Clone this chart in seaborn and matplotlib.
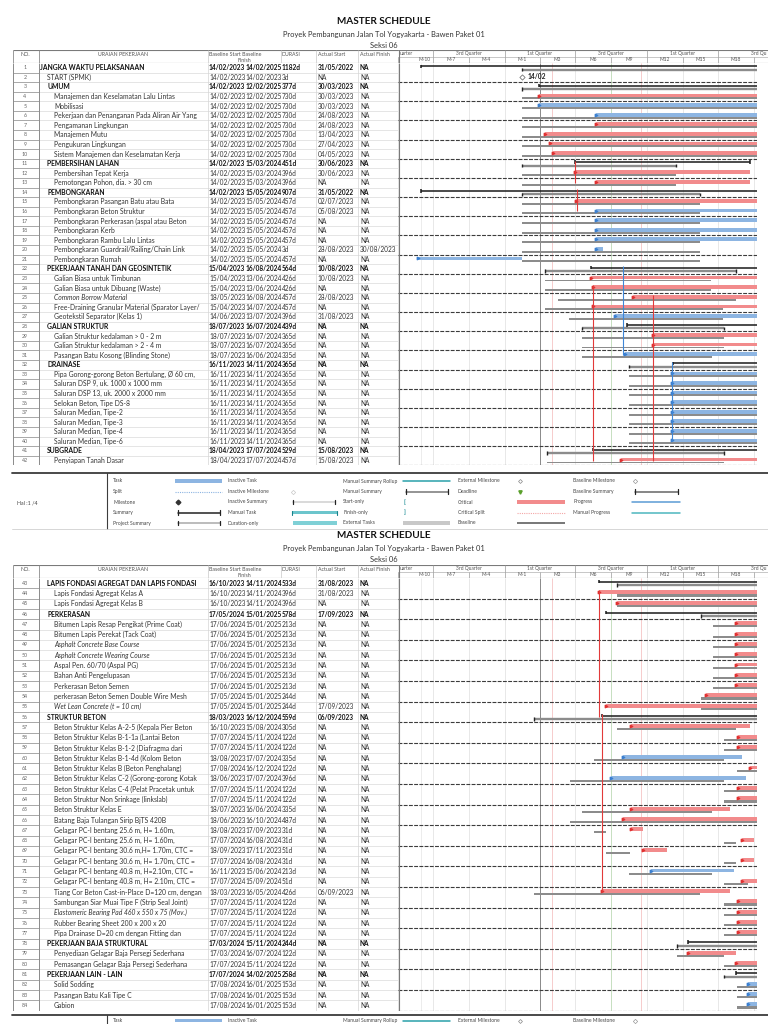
import datetime as dt
import numpy as np
import pandas as pd
import matplotlib
matplotlib.use("Agg")
import matplotlib.pyplot as plt
import matplotlib.dates as mdates
from matplotlib.patches import Rectangle
import seaborn as sns

sns.set_theme(style="white")
plt.rcParams["font.family"] = ["Lato", "DejaVu Sans"]

# ---------------------------------------------------------------- data
TITLE = "MASTER SCHEDULE"
SUBTITLE = "Proyek Pembangunan Jalan Tol Yogyakarta - Bawen Paket 01"
SECTION = "Seksi 06"
PAGE_LABELS = ["Hal :1 /4", "Hal :2 /4"]

TASK_NAMES = [
    "JANGKA WAKTU PELAKSANAAN", "START (SPMK)", "UMUM",
    "Manajemen dan Keselamatan Lalu Lintas", "Mobilisasi",
    "Pekerjaan dan Penanganan Pada Aliran Air Yang", "Pengamanan Lingkungan",
    "Manajemen Mutu", "Pengukuran Lingkungan", "Sistem Manajemen dan Keselamatan Kerja",
    "PEMBERSIHAN LAHAN", "Pembersihan Tepat Kerja", "Pemotongan Pohon, dia. > 30 cm",
    "PEMBONGKARAN", "Pembongkaran Pasangan Batu atau Bata", "Pembongkaran Beton Struktur",
    "Pembongkaran Perkerasan (aspal atau Beton", "Pembongkaran Kerb",
    "Pembongkaran Rambu Lalu Lintas", "Pembongkaran Guardrail/Railing/Chain Link",
    "Pembongkaran Rumah", "PEKERJAAN TANAH DAN GEOSINTETIK", "Galian Biasa untuk Timbunan",
    "Galian Biasa untuk Dibuang (Waste)", "Common Borrow Material",
    "Free-Draining Granular Material (Sparator Layer/", "Geotekstil Separator (Kelas 1)",
    "GALIAN STRUKTUR", "Galian Struktur kedalaman > 0 - 2 m", "Galian Struktur kedalaman > 2 - 4 m",
    "Pasangan Batu Kosong (Blinding Stone)", "DRAINASE",
    "Pipa Gorong-gorong Beton Bertulang, Ø 60 cm,", "Saluran DSP 9, uk. 1000 x 1000 mm",
    "Saluran DSP 13, uk. 2000 x 2000 mm", "Selokan Beton, Tipe DS-8", "Saluran Median, Tipe-2",
    "Saluran Median, Tipe-3", "Saluran Median, Tipe-4", "Saluran Median, Tipe-6",
    "SUBGRADE", "Penyiapan Tanah Dasar",
    "LAPIS FONDASI AGREGAT DAN LAPIS FONDASI", "Lapis Fondasi Agregat Kelas A",
    "Lapis Fondasi Agregat Kelas B", "PERKERASAN", "Bitumen Lapis Resap Pengikat (Prime Coat)",
    "Bitumen Lapis Perekat (Tack Coat)", "Asphalt Concrete Base Course",
    "Asphalt Concrete Wearing Course", "Aspal Pen. 60/70 (Aspal PG)", "Bahan Anti Pengelupasan",
    "Perkerasan Beton Semen", "perkerasan Beton Semen Double Wire Mesh",
    "Wet Lean Concrete (t = 10 cm)", "STRUKTUR BETON",
    "Beton Struktur Kelas A-2-5 (Kepala Pier Beton", "Beton Struktur Kelas B-1-1a (Lantai Beton",
    "Beton Struktur Kelas B-1-2 (Diafragma dari", "Beton Struktur Kelas B-1-4d (Kolom Beton",
    "Beton Struktur Kelas B (Beton Penghalang)", "Beton Struktur Kelas C-2 (Gorong-gorong Kotak",
    "Beton Struktur Kelas C-4 (Pelat Pracetak untuk", "Beton Struktur Non Srinkage (linkslab)",
    "Beton Struktur Kelas E", "Batang Baja Tulangan Sirip BjTS 420B",
    "Gelagar PC-I bentang 25.6 m, H= 1.60m,", "Gelagar PC-I bentang 25.6 m, H= 1.60m,",
    "Gelagar PC-I bentang 30.6 m,H= 1.70m, CTC =", "Gelagar PC-I bentang 30.6 m, H= 1.70m, CTC =",
    "Gelagar PC-I bentang 40.8 m, H=2.10m, CTC =", "Gelagar PC-I bentang 40.8 m, H= 2.10m, CTC =",
    "Tiang Cor Beton Cast-in-Place D=120 cm, dengan", "Sambungan Siar Muai Tipe F (Strip Seal Joint)",
    "Elastomeric Bearing Pad 460 x 550 x 75 (Mov.)", "Rubber Bearing Sheet 200 x 200 x 20",
    "Pipa Drainase D=20 cm dengan Fitting dan", "PEKERJAAN BAJA STRUKTURAL",
    "Penyediaan Gelagar Baja Persegi Sederhana", "Pemasangan Gelagar Baja Persegi Sederhana",
    "PEKERJAAN LAIN - LAIN", "Solid Sodding", "Pasangan Batu Kali Tipe C", "Gabion",
]
TASK_NUMBERS = list(range(1, len(TASK_NAMES) + 1))

TASK_LEVELS = [0, 1, 1, 2, 2, 2, 2, 2, 2, 2, 1, 2, 2, 1, 2, 2, 2, 2, 2, 2, 2, 1, 2, 2, 2, 2, 2,
               1, 2, 2, 2, 1, 2, 2, 2, 2, 2, 2, 2, 2, 1, 2,
               1, 2, 2, 1, 2, 2, 2, 2, 2, 2, 2, 2, 2, 1, 2, 2, 2, 2, 2, 2, 2, 2, 2, 2, 2,
               2, 2, 2, 2, 2, 2, 2, 2, 2, 2, 1, 2, 2, 1, 2, 2, 2]
TASK_STYLE = ["b", "n", "b", "n", "n", "n", "n", "n", "n", "n", "b", "n", "n", "b", "n", "n", "n",
              "n", "n", "n", "n", "b", "n", "n", "i", "n", "n", "b", "n", "n", "n", "b", "n", "n",
              "n", "n", "n", "n", "n", "n", "b", "n",
              "b", "n", "n", "b", "n", "n", "i", "i", "n", "n", "n", "n", "i", "b", "n", "n", "n",
              "n", "n", "n", "n", "n", "n", "n", "n", "n", "n", "n", "n", "n", "n", "n", "i", "n",
              "n", "b", "n", "n", "b", "n", "n", "n"]

BASELINE_START = [
    "14/02/2023", "14/02/2023", "14/02/2023", "14/02/2023", "14/02/2023", "14/02/2023",
    "14/02/2023", "14/02/2023", "14/02/2023", "14/02/2023", "14/02/2023", "14/02/2023",
    "14/02/2023", "14/02/2023", "14/02/2023", "14/02/2023", "14/02/2023", "14/02/2023",
    "14/02/2023", "14/02/2023", "14/02/2023", "15/04/2023", "15/04/2023", "15/04/2023",
    "18/05/2023", "15/04/2023", "14/06/2023", "18/07/2023", "18/07/2023", "18/07/2023",
    "18/07/2023", "16/11/2023", "16/11/2023", "16/11/2023", "16/11/2023", "16/11/2023",
    "16/11/2023", "16/11/2023", "16/11/2023", "16/11/2023", "18/04/2023", "18/04/2023",
    "16/10/2023", "16/10/2023", "16/10/2023", "17/05/2024", "17/06/2024", "17/06/2024",
    "17/06/2024", "17/06/2024", "17/06/2024", "17/06/2024", "17/06/2024", "17/05/2024",
    "17/05/2024", "18/03/2023", "16/10/2023", "17/07/2024", "17/07/2024", "18/08/2023",
    "17/08/2024", "18/06/2023", "17/07/2024", "17/07/2024", "18/07/2023", "18/06/2023",
    "18/08/2023", "17/07/2024", "18/09/2023", "17/07/2024", "16/11/2023", "17/07/2024",
    "18/03/2023", "17/07/2024", "17/07/2024", "17/07/2024", "17/07/2024", "17/03/2024",
    "17/03/2024", "17/07/2024", "17/07/2024", "17/08/2024", "17/08/2024", "17/08/2024",
]
BASELINE_FINISH = [
    "14/02/2025", "14/02/2023", "12/02/2025", "12/02/2025", "12/02/2025", "12/02/2025",
    "12/02/2025", "12/02/2025", "12/02/2025", "12/02/2025", "15/03/2024", "15/03/2024",
    "15/03/2024", "15/05/2024", "15/05/2024", "15/05/2024", "15/05/2024", "15/05/2024",
    "15/05/2024", "15/05/2024", "15/05/2024", "16/08/2024", "13/06/2024", "13/06/2024",
    "16/08/2024", "14/07/2024", "13/07/2024", "16/07/2024", "16/07/2024", "16/07/2024",
    "16/06/2024", "14/11/2024", "14/11/2024", "14/11/2024", "14/11/2024", "14/11/2024",
    "14/11/2024", "14/11/2024", "14/11/2024", "14/11/2024", "17/07/2024", "17/07/2024",
    "14/11/2024", "14/11/2024", "14/11/2024", "15/01/2025", "15/01/2025", "15/01/2025",
    "15/01/2025", "15/01/2025", "15/01/2025", "15/01/2025", "15/01/2025", "15/01/2025",
    "15/01/2025", "16/12/2024", "15/08/2024", "15/11/2024", "15/11/2024", "17/07/2024",
    "16/12/2024", "17/07/2024", "15/11/2024", "15/11/2024", "16/06/2024", "16/10/2024",
    "17/09/2023", "16/08/2024", "17/11/2023", "16/08/2024", "15/06/2024", "15/09/2024",
    "16/05/2024", "15/11/2024", "15/11/2024", "15/11/2024", "15/11/2024", "15/11/2024",
    "16/07/2024", "15/11/2024", "14/02/2025", "16/01/2025", "16/01/2025", "16/01/2025",
]
DURATIONS = [
    "1182d", "3d", "377d", "730d", "730d", "730d", "730d", "730d", "730d", "730d", "451d",
    "396d", "396d", "907d", "457d", "457d", "457d", "457d", "457d", "3d", "457d", "564d",
    "426d", "426d", "457d", "457d", "396d", "439d", "365d", "365d", "335d", "365d", "365d",
    "365d", "365d", "365d", "365d", "365d", "365d", "365d", "529d", "457d",
    "533d", "396d", "396d", "578d", "213d", "213d", "213d", "213d", "213d", "213d", "213d",
    "244d", "244d", "559d", "305d", "122d", "122d", "335d", "122d", "396d", "122d", "122d",
    "335d", "487d", "31d", "31d", "51d", "31d", "213d", "51d", "426d", "122d", "122d",
    "122d", "122d", "244d", "122d", "122d", "258d", "153d", "153d", "153d",
]
ACTUAL_START = [
    "31/05/2022", "NA", "30/03/2023", "30/03/2023", "30/03/2023", "24/08/2023", "24/08/2023",
    "13/04/2023", "27/04/2023", "04/05/2023", "30/06/2023", "30/06/2023", "NA", "31/05/2022",
    "02/07/2023", "05/08/2023", "NA", "NA", "NA", "28/08/2023", "NA", "10/08/2023",
    "10/08/2023", "NA", "28/08/2023", "NA", "31/08/2023", "NA", "NA", "NA", "NA", "NA", "NA",
    "NA", "NA", "NA", "NA", "NA", "NA", "NA", "15/08/2023", "15/08/2023",
    "31/08/2023", "31/08/2023", "NA", "17/09/2023", "NA", "NA", "NA", "NA", "NA", "NA", "NA",
    "NA", "17/09/2023", "06/09/2023", "NA", "NA", "NA", "NA", "NA", "NA", "NA", "NA", "NA",
    "NA", "NA", "NA", "NA", "NA", "NA", "NA", "06/09/2023", "NA", "NA", "NA", "NA", "NA",
    "NA", "NA", "NA", "NA", "NA", "NA",
]
ACTUAL_FINISH = [
    "NA", "NA", "NA", "NA", "NA", "NA", "NA", "NA", "NA", "NA", "NA", "NA", "NA", "NA", "NA",
    "NA", "NA", "NA", "NA", "30/08/2023", "NA", "NA", "NA", "NA", "NA", "NA", "NA", "NA", "NA",
    "NA", "NA", "NA", "NA", "NA", "NA", "NA", "NA", "NA", "NA", "NA", "NA", "NA",
    "NA", "NA", "NA", "NA", "NA", "NA", "NA", "NA", "NA", "NA", "NA", "NA", "NA", "NA", "NA",
    "NA", "NA", "NA", "NA", "NA", "NA", "NA", "NA", "NA", "NA", "NA", "NA", "NA", "NA", "NA",
    "NA", "NA", "NA", "NA", "NA", "NA", "NA", "NA", "NA", "NA", "NA", "NA",
]
# current-schedule bars read from the Gantt area
BAR_START = [
    "2022-05-31", "2023-02-14", "2023-03-30", "2023-03-30", "2023-03-30", "2023-08-24",
    "2023-08-24", "2023-04-13", "2023-04-27", "2023-05-04", "2023-06-30", "2023-06-30",
    "2023-08-24", "2022-05-31", "2023-07-02", "2023-08-24", "2023-08-24", "2023-08-24",
    "2023-08-24", "2023-08-24", "2022-05-24", "2023-08-10", "2023-08-10", "2023-08-15",
    "2023-11-25", "2023-08-15", "2023-10-10", "2023-11-10", "2024-01-16", "2024-01-16",
    "2023-11-05", "2024-03-07", "2024-03-04", "2024-03-04", "2024-03-04", "2024-03-04",
    "2024-03-04", "2024-03-04", "2024-03-04", "2024-03-04", "2023-08-15", "2023-10-25",
    "2023-08-31", "2023-08-31", "2023-10-16", "2023-09-17", "2024-08-15", "2024-08-15",
    "2024-08-15", "2024-08-15", "2024-08-15", "2024-08-15", "2024-08-15", "2024-06-01",
    "2023-09-17", "2023-09-06", "2023-11-20", "2024-08-20", "2024-08-20", "2023-11-01",
    "2024-09-20", "2023-10-01", "2024-08-20", "2024-08-20", "2023-11-20", "2023-11-01",
    "2023-11-20", "2024-09-01", "2023-12-20", "2024-09-01", "2024-01-10", "2024-09-01",
    "2023-09-06", "2024-08-20", "2024-08-20", "2024-08-20", "2024-08-20", "2024-04-15",
    "2024-04-15", "2024-08-15", "2024-08-15", "2024-09-15", "2024-09-15", "2024-09-15",
]
BAR_FINISH = [
    "2025-02-14", "2023-02-14", "2025-02-12", "2025-02-12", "2025-02-12", "2025-02-12",
    "2025-02-12", "2025-02-12", "2025-02-12", "2025-02-12", "2024-09-21", "2024-09-21",
    "2024-09-21", "2025-02-14", "2025-02-14", "2025-02-14", "2025-02-14", "2025-02-14",
    "2025-02-14", "2023-09-10", "2023-02-14", "2025-02-14", "2025-02-14", "2025-02-14",
    "2025-02-14", "2025-02-14", "2025-02-14", "2025-02-14", "2025-02-14", "2025-02-14",
    "2025-02-14", "2025-02-14", "2025-02-14", "2025-02-14", "2025-02-14", "2025-02-14",
    "2025-02-14", "2025-02-14", "2025-02-14", "2025-02-14", "2025-02-14", "2025-02-14",
    "2025-01-15", "2025-01-15", "2025-01-15", "2025-02-14", "2025-02-14", "2025-02-14",
    "2025-02-14", "2025-02-14", "2025-02-14", "2025-02-14", "2025-02-14", "2025-02-14",
    "2025-02-14", "2025-02-14", "2024-09-20", "2025-01-15", "2025-01-15", "2024-09-01",
    "2025-01-15", "2024-09-10", "2025-01-15", "2025-01-15", "2024-08-01", "2025-01-15",
    "2023-12-20", "2024-10-01", "2024-02-20", "2024-10-01", "2024-08-10", "2025-01-15",
    "2024-08-01", "2025-01-15", "2025-01-15", "2025-01-15", "2025-01-15", "2025-01-15",
    "2024-08-15", "2025-01-15", "2025-02-14", "2025-02-14", "2025-02-14", "2025-02-14",
]
BAR_KIND = [
    "sum", "ms", "sum", "crit", "task", "task", "crit", "crit", "crit", "crit", "sum", "crit",
    "crit", "sum", "crit", "task", "task", "task", "task", "task", "task", "sum", "crit",
    "crit", "crit", "crit", "task", "sum", "crit", "crit", "task", "sum", "task", "task",
    "task", "task", "task", "task", "task", "task", "sum", "crit",
    "sum", "crit", "crit", "sum", "crit", "crit", "crit", "crit", "crit", "crit", "crit",
    "crit", "crit", "sum", "crit", "crit", "crit", "task", "crit", "task", "crit", "crit",
    "crit", "crit", "crit", "crit", "crit", "crit", "task", "crit", "crit", "crit", "crit",
    "crit", "crit", "sum", "crit", "crit", "sum", "task", "task", "task",
]
MILESTONE_LABEL = "14/02"
# dependency link verticals: date, first row, last row, kind
LINK_DATE = ["2023-08-15", "2024-01-16", "2023-11-01", "2024-03-04", "2023-07-01",
             "2023-07-05", "2023-08-31", "2023-09-06"]
LINK_FROM = [24, 25, 22, 32, 11, 14, 44, 56]
LINK_TO = [42, 42, 31, 40, 13, 16, 56, 73]
LINK_KIND = ["crit", "crit", "task", "task", "crit", "crit", "crit", "crit"]

# timescale (first and last top-tier labels are only partly visible at the page edges)
TOP_TIER_LABELS = ["uarter", "3rd Quarter", "1st Quarter", "3rd Quarter", "1st Quarter",
                   "3rd Qu"]
TOP_TIER_DATES = ["2022-04-07", "2022-10-01", "2023-04-01", "2023-10-01", "2024-04-01",
                  "2024-09-22"]
TOP_TIER_ALIGN = ["left", "center", "center", "center", "center", "left"]
BOTTOM_TIER_LABELS = ["M-10", "M-7", "M-4", "M-1", "M3", "M6", "M9", "M12", "M15", "M18"]
BOTTOM_TIER_DATES = ["2022-06-08", "2022-08-16", "2022-11-15", "2023-02-14", "2023-05-16",
                     "2023-08-16", "2023-11-15", "2024-02-14", "2024-05-16", "2024-08-16"]
QUARTER_STARTS = ["2022-04-01", "2022-07-01", "2022-10-01", "2023-01-01", "2023-04-01",
                  "2023-07-01", "2023-10-01", "2024-01-01", "2024-04-01", "2024-07-01",
                  "2024-10-01"]
HALF_STARTS = ["2022-07-01", "2023-01-01", "2023-07-01", "2024-01-01", "2024-07-01"]

LEGEND_LABELS = [
    ["Task", "Split", "Milestone", "Summary", "Project Summary"],
    ["Inactive Task", "Inactive Milestone", "Inactive Summary", "Manual Task", "Duration-only"],
    ["Manual Summary Rollup", "Manual Summary", "Start-only", "Finish-only", "External Tasks"],
    ["External Milestone", "Deadline", "Critical", "Critical Split", "Baseline"],
    ["Baseline Milestone", "Baseline Summary", "Progress", "Manual Progress", ""],
]
LEGEND_KEYS = [
    ["task", "split", "ms", "summary", "projsum"],
    ["inactive", "inms", "insum", "manual", "duronly"],
    ["rollup", "mansum", "start", "finish", "external"],
    ["extms", "deadline", "crit", "critsplit", "baseline"],
    ["basems", "basesum", "progress", "manprog", ""],
]

# ---------------------------------------------------------------- styling
W, H = 768, 1024
CRIT = "#F28B8C"
BLUE = "#8DB5E2"
GRAY = "#8C8C8C"
TEAL = "#4DB6BF"
PX_PER_DAY = 0.39
ANCHOR_DATE = dt.datetime(2023, 2, 14)
ANCHOR_X = 522.0


def rect(x0, y0, x1, y1):
    return [x0 / W, 1 - y1 / H, (x1 - x0) / W, (y1 - y0) / H]


def px_num(x):
    return mdates.date2num(ANCHOR_DATE) + (x - ANCHOR_X) / PX_PER_DAY


def dnum(s):
    if "/" in s:
        return mdates.date2num(dt.datetime.strptime(s, "%d/%m/%Y"))
    return mdates.date2num(dt.datetime.strptime(s, "%Y-%m-%d"))


df = pd.DataFrame({
    "no": TASK_NUMBERS, "name": TASK_NAMES, "level": TASK_LEVELS, "style": TASK_STYLE,
    "bs": BASELINE_START, "bf": BASELINE_FINISH, "dur": DURATIONS,
    "as_": ACTUAL_START, "af": ACTUAL_FINISH,
    "s": BAR_START, "f": BAR_FINISH, "kind": BAR_KIND,
})

PAGES = [
    dict(first=1, last=42, title=21, sub=34, sec=45, head=(50, 63), pitch=9.58, legend=473,
         hal=PAGE_LABELS[0]),
    dict(first=43, last=84, title=536, sub=549, sec=560, head=(565, 578), pitch=10.3,
         legend=1015, hal=PAGE_LABELS[1]),
]

fig = plt.figure(figsize=(7.68, 10.24), dpi=100)
fig.patch.set_facecolor("white")

TXT = "#333333"
FS = 4.9
DFS = 4.7


def draw_page(p):
    first, last = p["first"], p["last"]
    h0, h1 = p["head"]
    row_top = h1
    row_bot = row_top + (last - first + 1) * p["pitch"]
    sub = df[(df.no >= first) & (df.no <= last)]

    # ---- table header
    th = fig.add_axes(rect(0, h0, 398, h1))
    th.set_xlim(0, 398); th.set_ylim(1, 0); th.axis("off")
    hc = "#555555"
    hf = 3.8
    th.text(25, 0.35, "NO.", ha="center", va="center", fontsize=hf, color=hc)
    th.text(123, 0.35, "URAIAN PEKERJAAN", ha="center", va="center", fontsize=hf, color=hc)
    th.text(209, 0.35, "Baseline Start Baseline", ha="left", va="center", fontsize=hf, color=hc)
    th.text(237, 0.78, "Finish", ha="left", va="center", fontsize=hf, color=hc)
    th.text(282, 0.35, "DURASI", ha="left", va="center", fontsize=hf, color=hc)
    th.text(318, 0.35, "Actual Start", ha="left", va="center", fontsize=hf, color=hc)
    th.text(360, 0.35, "Actual Finish", ha="left", va="center", fontsize=hf, color=hc)
    th.hlines([0, 1], 13, 398, color="#7a7a7a", lw=0.8)
    th.vlines([13, 39], 0, 1, color="#8a8a8a", lw=0.6)
    th.vlines([208, 281, 316, 358], 0, 1, color="#c8c8c8", lw=0.5)

    # ---- gantt header
    gh = fig.add_axes(rect(398, h0, 768, h1))
    gh.set_xlim(px_num(398), px_num(768)); gh.set_ylim(2, 0); gh.axis("off")
    for lab, d, al in zip(TOP_TIER_LABELS, TOP_TIER_DATES, TOP_TIER_ALIGN):
        gh.text(dnum(d), 0.48, lab, ha=al, va="center", fontsize=3.5, color=hc)
    for lab, d in zip(BOTTOM_TIER_LABELS, BOTTOM_TIER_DATES):
        gh.text(dnum(d), 1.45, lab, ha="center", va="center", fontsize=3.5, color=hc)
    gh.axhline(0, color="#7a7a7a", lw=0.8)
    gh.axhline(1, color="#b0b0b0", lw=0.5)
    gh.axhline(2, color="#7a7a7a", lw=0.8)
    gh.vlines([dnum(d) for d in HALF_STARTS], 0, 1, color="#9a9a9a", lw=0.5)
    gh.vlines([dnum(d) for d in QUARTER_STARTS], 1, 2, color="#9a9a9a", lw=0.5)
    gh.vlines(px_num(398.6), 0, 2, color="#7a7a7a", lw=0.8)

    # ---- table body
    tb = fig.add_axes(rect(0, row_top, 398, row_bot))
    tb.set_xlim(0, 398); tb.set_ylim(last + 0.5, first - 0.5); tb.axis("off")
    rows = np.arange(first, last + 1)
    tb.hlines(rows + 0.5, 39, 398, color="#dadada", lw=0.5)
    tb.hlines(rows + 0.5, 13, 39, color="#9a9a9a", lw=0.6)
    tb.vlines([13, 39], first - 0.5, last + 0.5, color="#8a8a8a", lw=0.7)
    tb.vlines([208, 316, 358], first - 0.5, last + 0.5, color="#d4d4d4", lw=0.5)
    name_x = [40, 47, 54]
    for r in sub.itertuples():
        bold = r.style == "b"
        wt = "bold" if bold else "normal"
        col = "#111111" if bold else TXT
        tb.text(25, r.no, str(r.no), ha="center", va="center", fontsize=3.8, color="#666666")
        tb.text(name_x[r.level], r.no, r.name, ha="left", va="center", fontsize=FS,
                fontweight=wt, color=col, fontstyle="italic" if r.style == "i" else "normal")
        tb.text(209, r.no, r.bs, ha="left", va="center", fontsize=DFS, fontweight=wt, color=col)
        tb.text(245.5, r.no, r.bf, ha="left", va="center", fontsize=DFS, fontweight=wt, color=col)
        tb.text(281.5, r.no, r.dur, ha="left", va="center", fontsize=DFS, fontweight=wt, color=col)
        tb.text(317.5, r.no, r.as_, ha="left", va="center", fontsize=DFS, fontweight=wt, color=col)
        tb.text(360, r.no, r.af, ha="left", va="center", fontsize=DFS, fontweight=wt, color=col)

    # ---- gantt body
    ga = fig.add_axes(rect(398, row_top, 757, row_bot))
    ga.set_xlim(px_num(398), px_num(757)); ga.set_ylim(last + 0.5, first - 0.5)
    ga.axis("off")
    ga.vlines([dnum(d) for d in QUARTER_STARTS], first - 0.5, last + 0.5, color="#dedede",
              lw=0.5, zorder=0)
    ga.vlines(dnum("2022-05-31"), first - 0.5, last + 0.5, color="#e4e4e4", lw=0.5, zorder=0)
    ga.vlines(dnum("2023-04-01"), first - 0.5, last + 0.5, color="#8a8a8a", lw=0.7, zorder=0)
    ga.vlines(dnum("2023-10-01"), first - 0.5, last + 0.5, color="#b9dcb0", lw=0.5, zorder=0)
    ga.vlines([dnum("2023-05-01"), dnum("2023-12-17")], first - 0.5, last + 0.5,
              color="#f3b8b8", lw=0.5, zorder=0)
    ga.vlines(px_num(398.6), first - 0.5, last + 0.5, color="#7a7a7a", lw=0.8)
    sep = rows[rows % 2 == 0] + 0.5
    ga.hlines(sep, px_num(398), px_num(757), color="#3c3c3c", lw=0.8,
              linestyles=(0, (3.5, 1.2)), zorder=1)

    for r in sub.itertuples():
        y = r.no
        bs, bf = dnum(r.bs), dnum(r.bf)
        s, f = dnum(r.s), dnum(r.f)
        if r.kind == "sum":
            ga.hlines(y + 0.2, bs, bf, color=GRAY, lw=1.7, zorder=2)
            ga.vlines([bs, bf], y + 0.02, y + 0.38, color="#222222", lw=1.0, zorder=3)
            ga.hlines(y - 0.14, s, f, color="#1a1a1a", lw=1.1, zorder=3)
            ga.vlines([s, f], y - 0.34, y + 0.02, color="#1a1a1a", lw=1.1, zorder=3)
        elif r.kind == "ms":
            ga.scatter([s], [y], marker="D", s=7, facecolor="white", edgecolor="#777777",
                       linewidths=0.6, zorder=4)
            ga.text(s + 13, y - 0.05, MILESTONE_LABEL, fontsize=4.8,
                    fontweight="bold", va="center", ha="left", color="#222222")
        else:
            colr = CRIT if r.kind == "crit" else BLUE
            ga.barh(y - 0.1, f - s, left=s, height=0.38, color=colr, lw=0, zorder=2)
            ga.barh(y + 0.2, bf - bs, left=bs, height=0.2, color=GRAY, lw=0, zorder=3)
            ga.scatter([s], [y - 0.1], marker=">", s=3,
                       color="#e03030" if r.kind == "crit" else "#3a7fd0", zorder=4)

    for d, a, b, k in zip(LINK_DATE, LINK_FROM, LINK_TO, LINK_KIND):
        if a >= first and b <= last:
            ga.vlines(dnum(d), a - 0.3, b, color="#e23a3a" if k == "crit" else "#3f86d6",
                      lw=0.8, zorder=5)
    return row_bot


deco = fig.add_axes([0, 0, 1, 1])
deco.set_xlim(0, W); deco.set_ylim(H, 0); deco.axis("off")
deco.patch.set_alpha(0)


def legend_symbol(ax, key, x0, x1, y):
    if key == "task":
        ax.add_patch(Rectangle((x0, y - 1.6), x1 - x0, 3.2, color=BLUE, lw=0))
    elif key == "split":
        ax.plot([x0, x1], [y, y], color=BLUE, lw=0.8, ls=(0, (1, 1)))
    elif key == "ms":
        ax.plot(x0 + 3, y, marker="D", ms=2.4, color="#333333")
    elif key in ("summary", "projsum", "insum", "mansum", "basesum"):
        lc = {"summary": "#222222", "projsum": "#aaaaaa", "insum": "#d0d0d0",
              "mansum": "#777777", "basesum": "#666666"}[key]
        ax.plot([x0 + 3, x1 - 2], [y, y], color=lc, lw=1.1)
        ax.plot([x0 + 3, x0 + 3], [y - 2.2, y + 2.2], color="#222222", lw=0.9)
        ax.plot([x1 - 2, x1 - 2], [y - 2.2, y + 2.2], color="#222222", lw=0.9)
    elif key == "inms":
        ax.plot(x0 + 3, y, marker="D", ms=2.2, mfc="white", mec="#c8c8c8", mew=0.5)
    elif key == "manual":
        ax.add_patch(Rectangle((x0 + 2, y - 1.6), x1 - x0 - 2, 3.2, color="#6cc5cc", lw=0))
        ax.plot([x0 + 2, x0 + 2], [y - 2, y + 2], color="#17818a", lw=0.8)
        ax.plot([x1, x1], [y - 2, y + 2], color="#17818a", lw=0.8)
    elif key == "duronly":
        ax.add_patch(Rectangle((x0 + 3, y - 1.6), x1 - x0 - 3, 3.2, color="#7fd0d6", lw=0))
    elif key in ("rollup", "manprog"):
        ax.plot([x0, x1], [y, y], color="#2aa0aa" if key == "rollup" else TEAL, lw=1.1)
    elif key == "progress":
        ax.plot([x0, x1], [y, y], color="#5b9bd5", lw=1.1)
    elif key == "start":
        ax.text(x0 + 1, y, "[", fontsize=4.5, color="#1a8c95", va="center", fontweight="bold")
    elif key == "finish":
        ax.text(x0 + 1, y, "]", fontsize=4.5, color="#1a8c95", va="center", fontweight="bold")
    elif key == "external":
        ax.add_patch(Rectangle((x0, y - 1.6), x1 - x0, 3.2, color="#c8c8c8", lw=0))
    elif key == "extms":
        ax.plot(x0 + 3, y, marker="D", ms=2.0, mfc="white", mec="#888888", mew=0.5)
    elif key == "deadline":
        ax.plot(x0 + 3, y, marker="v", ms=2.4, color="#5aa02c")
    elif key == "crit":
        ax.add_patch(Rectangle((x0, y - 1.6), x1 - x0, 3.2, color=CRIT, lw=0))
    elif key == "critsplit":
        ax.plot([x0, x1], [y, y], color="#f4a6a6", lw=0.8, ls=(0, (1, 1)))
    elif key == "baseline":
        ax.add_patch(Rectangle((x0, y - 1.1), x1 - x0, 2.2, color="#7a7a7a", lw=0))
    elif key == "basems":
        ax.plot(x0 + 3, y, marker="D", ms=2.2, mfc="white", mec="#999999", mew=0.5)


def draw_legend(y0, hal):
    deco.plot([12, W], [y0, y0], color="#3c3c3c", lw=1.3)
    deco.plot([107, 107], [y0, min(y0 + 56, H)], color="#3c3c3c", lw=0.8)
    if y0 + 56 < H:
        deco.plot([12, W], [y0 + 56, y0 + 56], color="#d0d0d0", lw=0.6)
        deco.text(17, y0 + 30, hal, fontsize=3.8, color="#444444", va="center")
    ys = [min(y0 + 8, H - 3.2), y0 + 18.5, y0 + 29, y0 + 39.5, y0 + 50]
    lab_x = [113, 228, 343, 458, 573]
    sym_x = [(175, 222), (290, 337), (403, 450), (517, 565), (632, 680)]
    for ci in range(5):
        for ri in range(5):
            lab = LEGEND_LABELS[ci][ri]
            if not lab or ys[ri] > H - 3:
                continue
            deco.text(lab_x[ci], ys[ri], lab, fontsize=3.6, color="#444444", va="center")
            legend_symbol(deco, LEGEND_KEYS[ci][ri], sym_x[ci][0], sym_x[ci][1], ys[ri])


for p in PAGES:
    draw_page(p)
    deco.text(W / 2, p["title"], TITLE, ha="center", va="center", fontsize=7.2,
              fontweight="bold", color="#111111")
    deco.text(W / 2, p["sub"], SUBTITLE, ha="center", va="center", fontsize=5.4, color="#333333")
    deco.text(W / 2, p["sec"], SECTION, ha="center", va="center", fontsize=5.4, color="#333333")
    draw_legend(p["legend"], p["hal"])

fig.savefig("out.png", dpi=100, facecolor="white")
